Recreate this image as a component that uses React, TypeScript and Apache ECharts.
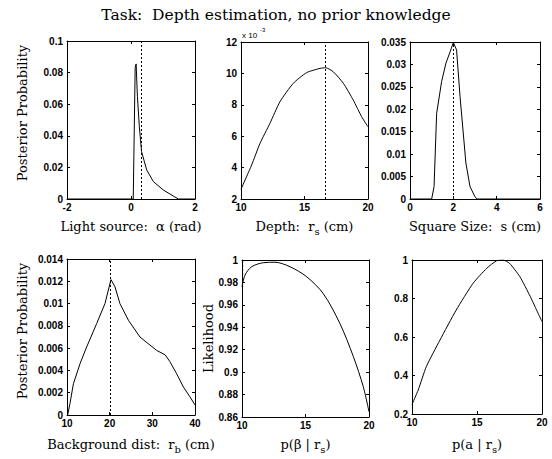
import React, { useEffect, useRef } from "react";
import * as echarts from "echarts";

// ---------- data ----------
const alphaCurve: [number, number][] = [
  [-2, 0], [0.07, 0], [0.13, 0.083], [0.16, 0.0855], [0.2, 0.065], [0.26, 0.046],
  [0.33, 0.030], [0.49, 0.0184], [0.70, 0.011], [1.01, 0.0057], [1.32, 0.0019],
  [1.48, 0], [2, 0],
];
const alphaMAP = 0.33;

const depthCurve: [number, number][] = [
  [10, 2.62], [10.84, 4.17], [11.5, 5.55], [12.28, 6.82], [13.07, 8.2], [14.12, 9.37],
  [15.17, 10.05], [16.22, 10.32], [16.67, 10.36], [17.27, 10.1], [18.06, 9.37],
  [18.84, 8.3], [19.5, 7.24], [20, 6.6],
];
const depthMAP = 16.67;

const sizeCurve: [number, number][] = [
  [0, 0], [1.0, 0], [1.11, 0.00275], [1.23, 0.0191], [1.46, 0.0262], [1.66, 0.0303],
  [1.85, 0.0328], [2.0, 0.0349], [2.15, 0.0332], [2.31, 0.0228], [2.58, 0.008],
  [2.77, 0.00275], [3.0, 0.0005], [3.1, 0], [6, 0],
];
const sizeMAP = 2.0;

const bgCurve: [number, number][] = [
  [10.16, 0], [10.7, 0.00105], [11.5, 0.0028], [13.05, 0.0046], [14.6, 0.0061],
  [16.95, 0.0082], [18.9, 0.010], [20.3, 0.01215], [21.25, 0.0115], [22.4, 0.010],
  [24.4, 0.0085], [27.1, 0.0070], [31.0, 0.0058], [33.0, 0.0054], [34.1, 0.0048],
  [35.7, 0.0037], [37.3, 0.0025], [38.8, 0.00164], [40, 0.0009],
];
const bgMAP = 20.2;

const betaLik: [number, number][] = [
  [10, 0.976], [10.24, 0.9866], [10.76, 0.994], [11.7, 0.9976], [12.6, 0.998],
  [13.78, 0.994], [15.1, 0.985], [16.4, 0.970], [17.7, 0.9436], [18.77, 0.9138],
  [19.55, 0.887], [20, 0.8647],
];
const betaMark: [number, number][] = [[10.05, 0.976], [10.05, 1]];

const aLik: [number, number][] = [
  [10, 0.25], [10.48, 0.325], [11.1, 0.446], [12.15, 0.584], [13.4, 0.74],
  [14.7, 0.879], [15.75, 0.957], [16.5, 0.996], [17.0, 1.0], [17.5, 0.983],
  [18.3, 0.913], [19.1, 0.81], [19.7, 0.723], [20, 0.68],
];

const titleText = "Task:  Depth estimation, no prior knowledge";

// ---------- layout / style ----------
const SERIF = "DejaVu Serif";
const SANS = "Liberation Sans";

const tickFont = { fontFamily: SANS, fontSize: 10, fontWeight: "bold" as const, color: "#000" };
const nameFont = {
  fontFamily: SERIF,
  fontSize: 13,
  color: "#000",
  lineHeight: 20,
  rich: { s: { fontFamily: SERIF, fontSize: 10, lineHeight: 10, verticalAlign: "bottom", color: "#000" } },
};

type Panel = {
  grid: { left: number; top: number; width: number; height: number };
  x: [number, number, number];
  y: [number, number, number];
  xName: string;
  xGap: number;
  yName?: string;
  yGap?: number;
  yShift?: number;
  data: [number, number][];
  smooth?: number;
  mark?: number;
  extra?: [number, number][];
};

const panels: Panel[] = [
  { grid: { left: 67, top: 41, width: 128, height: 158 }, x: [-2, 2, 2], y: [0, 0.1, 0.02],
    xName: "Light source:  α (rad)", xGap: 17, yName: "Posterior Probability", yGap: 38, yShift: 14, data: alphaCurve, mark: alphaMAP },
  { grid: { left: 241, top: 42, width: 127, height: 157 }, x: [10, 20, 5], y: [2, 12, 2],
    xName: "Depth:  r{s|s} (cm)", xGap: 17, data: depthCurve, smooth: 0.2, mark: depthMAP },
  { grid: { left: 410, top: 42, width: 130, height: 157 }, x: [0, 6, 2], y: [0, 0.035, 0.005],
    xName: "Square Size:  s (cm)", xGap: 17, data: sizeCurve, mark: sizeMAP },
  { grid: { left: 67, top: 259, width: 128, height: 156 }, x: [10, 40, 10], y: [0, 0.014, 0.002],
    xName: "Background dist:  r{s|b} (cm)", xGap: 19, yName: "Posterior Probability", yGap: 38, yShift: 12, data: bgCurve, mark: bgMAP },
  { grid: { left: 242, top: 260, width: 127, height: 157 }, x: [10, 20, 5], y: [0.86, 1, 0.02],
    xName: "p(β | r{s|s})", xGap: 17, yName: "Likelihood", yGap: 23, data: betaLik, smooth: 0.3, extra: betaMark },
  { grid: { left: 412, top: 260, width: 130, height: 154 }, x: [10, 20, 5], y: [0.2, 1, 0.2],
    xName: "p(a | r{s|s})", xGap: 20, data: aLik, smooth: 0.2 },
];

function buildOption() {
  const grid: any[] = [];
  const xAxis: any[] = [];
  const yAxis: any[] = [];
  const series: any[] = [];
  const line = { show: true, onZero: false, lineStyle: { color: "#000", width: 1 } };
  const tick = { show: true, inside: true, length: 3, lineStyle: { color: "#000", width: 1 } };
  panels.forEach((p, i) => {
    grid.push({ ...p.grid, containLabel: false });
    xAxis.push({
      type: "value", gridIndex: i, position: "bottom", min: p.x[0], max: p.x[1], interval: p.x[2],
      axisLine: line, axisTick: tick, splitLine: { show: false },
      axisLabel: { ...tickFont, margin: 3 },
      name: p.xName, nameLocation: "middle", nameGap: p.xGap, nameTextStyle: nameFont,
    });
    xAxis.push({
      type: "value", gridIndex: i, position: "top", min: p.x[0], max: p.x[1], interval: p.x[2],
      axisLine: line, axisTick: tick, splitLine: { show: false }, axisLabel: { show: false },
    });
    yAxis.push({
      type: "value", gridIndex: i, position: "left", min: p.y[0], max: p.y[1], interval: p.y[2],
      axisLine: line, axisTick: tick, splitLine: { show: false },
      axisLabel: { ...tickFont, margin: 4 },
      name: p.yName, nameLocation: "middle", nameGap: p.yGap ?? 30,
      nameTextStyle: { fontFamily: SERIF, fontSize: 13, color: "#000", padding: [0, 0, 0, p.yShift ?? 0] },
    });
    yAxis.push({
      type: "value", gridIndex: i, position: "right", min: p.y[0], max: p.y[1], interval: p.y[2],
      axisLine: line, axisTick: tick, splitLine: { show: false }, axisLabel: { show: false },
    });
    const s: any = {
      type: "line", xAxisIndex: 2 * i, yAxisIndex: 2 * i, data: p.data, showSymbol: false,
      symbol: "none", smooth: p.smooth ?? false, lineStyle: { color: "#000", width: 1 },
      silent: true,
    };
    if (p.mark !== undefined) {
      s.markLine = {
        silent: true, symbol: "none", label: { show: false },
        lineStyle: { color: "#000", type: [2, 2], width: 1 },
        data: [{ xAxis: p.mark }],
      };
    }
    series.push(s);
    if (p.extra) {
      series.push({
        type: "line", xAxisIndex: 2 * i, yAxisIndex: 2 * i, data: p.extra, symbol: "none",
        lineStyle: { color: "#000", width: 1, type: [2, 2] }, silent: true,
      });
    }
  });
  return {
    animation: false,
    backgroundColor: "#fff",
    title: {
      text: titleText, left: "center", top: 2,
      textStyle: { fontFamily: SERIF, fontSize: 15.5, fontWeight: "normal", color: "#000" },
    },
    grid, xAxis, yAxis, series,
    graphic: [
      { type: "text", left: 242, top: 31, style: { text: "x 10", fontFamily: SANS, fontSize: 8, fill: "#000" } },
      { type: "text", left: 260, top: 27, style: { text: "-3", fontFamily: SANS, fontSize: 6, fill: "#000" } },
    ],
  };
}

export default function App() {
  const ref = useRef<HTMLDivElement>(null);
  useEffect(() => {
    if (!ref.current) return;
    const chart = echarts.init(ref.current, undefined, { renderer: "svg" });
    chart.setOption(buildOption() as any);
    return () => chart.dispose();
  }, []);
  return (
    <div
      ref={ref}
      style={{ position: "fixed", left: 0, top: 0, width: 552, height: 459, background: "#fff" }}
    />
  );
}
